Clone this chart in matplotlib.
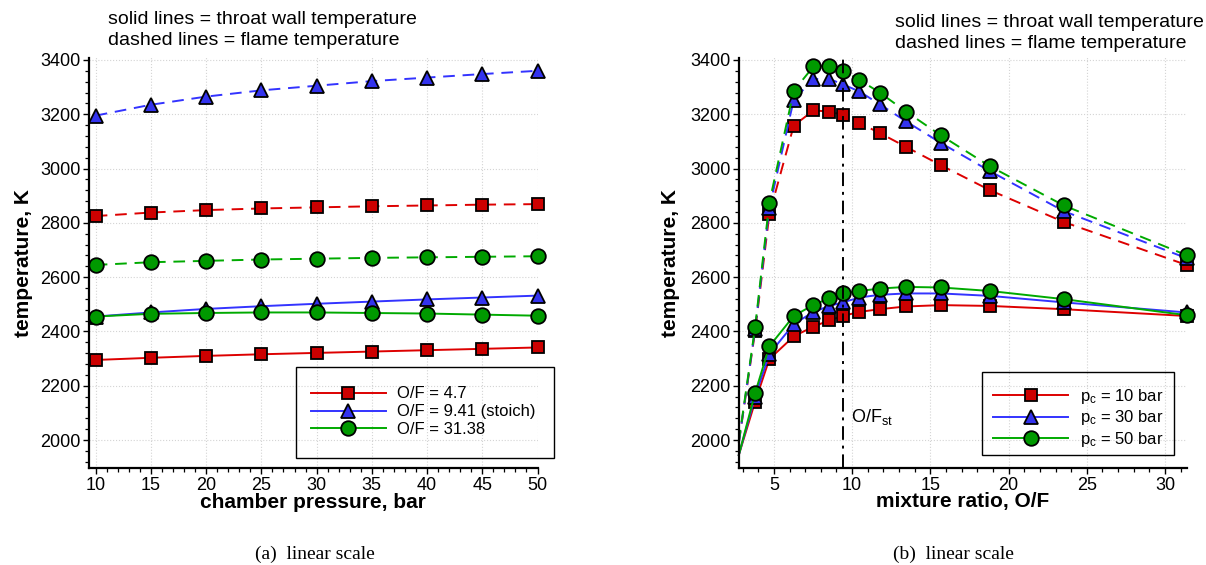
import matplotlib
matplotlib.use("Agg")
import matplotlib.pyplot as plt
from matplotlib.patches import Rectangle
from matplotlib.ticker import MultipleLocator

plt.rcParams['font.family'] = ['Liberation Sans', 'DejaVu Sans']
plt.rcParams['mathtext.fontset'] = 'custom'
plt.rcParams['mathtext.rm'] = 'Liberation Sans'
plt.rcParams['mathtext.it'] = 'Liberation Sans:italic'

# (a) temperature vs chamber pressure, one series per mixture ratio
pc_bar = [10, 15, 20, 25, 30, 35, 40, 45, 50]
flame_of47 = [2825, 2838, 2847, 2853, 2857, 2861, 2864, 2867, 2869]
flame_of941 = [3195, 3235, 3265, 3288, 3305, 3322, 3335, 3348, 3360]
flame_of3138 = [2645, 2655, 2660, 2665, 2668, 2671, 2673, 2675, 2677]
wall_of47 = [2295, 2303, 2310, 2316, 2321, 2326, 2331, 2336, 2341]
wall_of941 = [2455, 2470, 2483, 2493, 2502, 2510, 2518, 2525, 2532]
wall_of3138 = [2455, 2465, 2468, 2470, 2470, 2468, 2466, 2462, 2458]
labels_a = ['O/F = 4.7', 'O/F = 9.41 (stoich)', 'O/F = 31.38']

# (b) temperature vs mixture ratio, one series per chamber pressure
# (first point is the curve start, drawn without a marker)
of_ratio = [2.76, 3.80, 4.71, 6.27, 7.53, 8.55, 9.41, 10.46, 11.76, 13.44, 15.68, 18.82, 23.53, 31.37]
flame_10 = [1990, 2400, 2831, 3158, 3214, 3210, 3198, 3168, 3131, 3080, 3012, 2920, 2803, 2645]
flame_30 = [1990, 2408, 2855, 3253, 3330, 3330, 3310, 3284, 3237, 3174, 3094, 2990, 2843, 2670]
flame_50 = [1995, 2415, 2874, 3286, 3376, 3379, 3361, 3327, 3280, 3210, 3122, 3008, 2864, 2681]
wall_10 = [1945, 2141, 2298, 2382, 2418, 2441, 2457, 2472, 2482, 2492, 2497, 2494, 2482, 2457]
wall_30 = [1945, 2160, 2317, 2427, 2472, 2494, 2507, 2525, 2535, 2540, 2540, 2531, 2507, 2470]
wall_50 = [1945, 2173, 2345, 2457, 2498, 2522, 2540, 2549, 2558, 2564, 2562, 2549, 2519, 2460]
labels_b = [r'p$_\mathrm{c}$ = 10 bar', r'p$_\mathrm{c}$ = 30 bar', r'p$_\mathrm{c}$ = 50 bar']
of_stoich = 9.41

W, H = 1206, 565
fig = plt.figure(figsize=(W / 100, H / 100), dpi=100)


def fx(x):
    return x / W


def fy(y):
    return 1 - y / H


line_cols = ['#dd0000', '#3333ff', '#00aa00']
face_cols = ['#cc0000', '#3333ee', '#009900']
markers = ['s', '^', 'o']
msizes = [8.5, 10, 10.5]
dash = (6, 4)


def style_axes(ax, xmajor):
    for s in ['top', 'right']:
        ax.spines[s].set_visible(False)
    for s in ['left', 'bottom']:
        ax.spines[s].set_linewidth(1.6)
    ax.xaxis.set_major_locator(MultipleLocator(xmajor))
    ax.xaxis.set_minor_locator(MultipleLocator(1))
    ax.yaxis.set_major_locator(MultipleLocator(200))
    ax.yaxis.set_minor_locator(MultipleLocator(40))
    ax.tick_params(which='major', direction='out', length=4.6, width=1.0,
                   labelsize=13, pad=1.5)
    ax.tick_params(which='minor', direction='out', length=3.0, width=0.9)
    ax.grid(True, which='major', linestyle=':', color='#d4d4d4', linewidth=0.8)
    ax.set_axisbelow(True)
    ax.set_ylim(1896, 3409)


def series(ax, x, y, i, ls, every=None, label=None):
    kw = dict(color=line_cols[i], lw=1.4, marker=markers[i], ms=msizes[i],
              mfc=face_cols[i], mec='black', mew=1.3, clip_on=False, label=label)
    if every is not None:
        kw['markevery'] = every
    ln, = ax.plot(x, y, **kw)
    if ls == 'dash':
        ln.set_dashes(dash)
    return ln


def legend_box(ax, x0, y0, x1, y1, anchor, labels):
    handles = [ln for ln in ax.lines if ln.get_label() in labels]
    leg = ax.legend(handles, labels, loc='upper left',
                    bbox_to_anchor=(fx(anchor[0]), fy(anchor[1])),
                    bbox_transform=fig.transFigure, frameon=False, fontsize=12,
                    borderpad=0, borderaxespad=0, handlelength=4.5,
                    handletextpad=0.7, labelspacing=0.17, numpoints=1)
    fig.patches.append(Rectangle((fx(x0), fy(y1)), fx(x1 - x0), (y1 - y0) / H,
                                 transform=fig.transFigure, fill=False,
                                 edgecolor='black', lw=1.0))
    return leg


# ---- panel (a) ----
axa = fig.add_axes([fx(89.3), fy(468.3), fx(537.5 - 89.3), (468.3 - 57.5) / H])
style_axes(axa, 5)
axa.set_xlim(9.42, 50)
flames_a = [flame_of47, flame_of941, flame_of3138]
walls_a = [wall_of47, wall_of941, wall_of3138]
for i in range(3):
    series(axa, pc_bar, flames_a[i], i, 'dash')
for i in range(3):
    series(axa, pc_bar, walls_a[i], i, 'solid', label=labels_a[i])
legend_box(axa, 296.4, 367.3, 553.6, 458.3, (310.7, 386.5), labels_a)

# ---- panel (b) ----
axb = fig.add_axes([fx(738.8), fy(468.3), fx(1187 - 738.8), (468.3 - 57.5) / H])
style_axes(axb, 5)
axb.set_xlim(2.76, 31.4)
flames_b = [flame_10, flame_30, flame_50]
walls_b = [wall_10, wall_30, wall_50]
for i in range(3):
    series(axb, of_ratio, flames_b[i], i, 'dash', every=slice(1, None))
for i in range(3):
    series(axb, of_ratio, walls_b[i], i, 'solid', every=slice(1, None), label=labels_b[i])
axb.axvline(of_stoich, color='black', lw=1.4, dashes=(7, 3, 1.5, 3))
axb.text(9.95, 2067, r'O/F$_\mathrm{st}$', fontsize=13, va='baseline')
legend_box(axb, 982.3, 371.7, 1174.3, 455, (993.3, 386.5), labels_b)

# labels and notes
for xc, txt in [(313, 'chamber pressure, bar'), (963, 'mixture ratio, O/F')]:
    fig.text(fx(xc), fy(502), txt, ha='center', va='center', fontsize=15, fontweight='bold')
for xc in [24, 671]:
    fig.text(fx(xc), fy(262.9), 'temperature, K', ha='center', va='center',
             rotation=90, fontsize=15, fontweight='bold')
for x0, y0 in [(108, 24), (894.7, 27)]:
    fig.text(fx(x0), fy(y0), 'solid lines = throat wall temperature',
             fontsize=14, va='baseline')
    fig.text(fx(x0), fy(y0 + 21), 'dashed lines = flame temperature',
             fontsize=14, va='baseline')
for xc, txt in [(315, '(a)  linear scale'), (953.5, '(b)  linear scale')]:
    fig.text(fx(xc), fy(554), txt, ha='center', va='center', fontsize=14,
             family=['Liberation Serif', 'DejaVu Serif'])

fig.savefig('out.png', dpi=100)
